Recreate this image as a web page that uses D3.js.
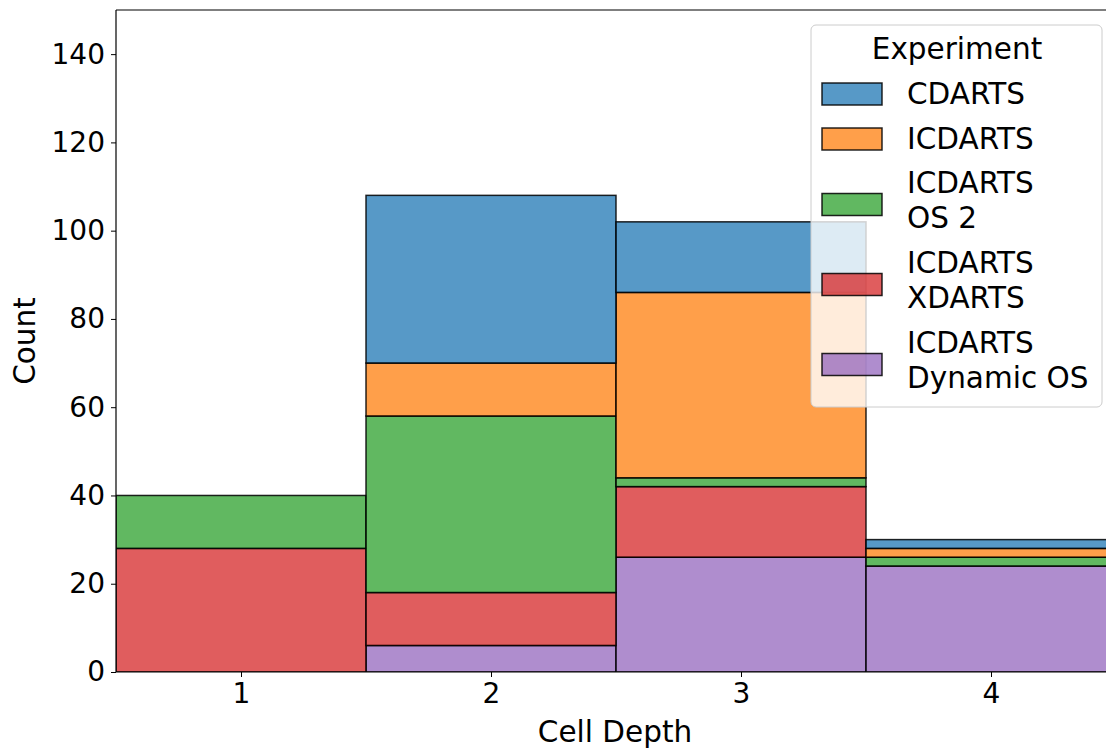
<!DOCTYPE html>
<html>
<head>
<meta charset="utf-8">
<script src="https://cdn.jsdelivr.net/npm/d3@7"></script>
<style>
  body { margin: 0; background: #fff; }
  svg { display: block; font-family: "DejaVu Sans", sans-serif; }
</style>
</head>
<body>
<svg id="chart" width="1106" height="750"></svg>
<script>
// Cell depth bins
const depths = [1, 2, 3, 4];
// counts per experiment, one value per depth bin
const cdarts = [0, 38, 16, 2];
const icdarts = [0, 12, 42, 2];
const icdartsOs2 = [12, 40, 2, 2];
const icdartsXdarts = [28, 12, 16, 0];
const icdartsDynamicOs = [0, 6, 26, 24];
const yTicks = [0, 20, 40, 60, 80, 100, 120, 140];

// legend order (top to bottom) = hue order
const experiments = [
  { key: "cdarts", label: "CDARTS", color: "#1f77b4", values: cdarts },
  { key: "icdarts", label: "ICDARTS", color: "#ff7f0e", values: icdarts },
  { key: "os2", label: "ICDARTS\nOS 2", color: "#2ca02c", values: icdartsOs2 },
  { key: "xdarts", label: "ICDARTS\nXDARTS", color: "#d62728", values: icdartsXdarts },
  { key: "dyn", label: "ICDARTS\nDynamic OS", color: "#9467bd", values: icdartsDynamicOs }
];

const margin = { top: 10, left: 116, bottom: 78 };
const W = 1106, H = 750;
const plotW = 1000;                 // axes run past the window edge
const plotH = H - margin.top - margin.bottom;

const svg = d3.select("#chart");
const g = svg.append("g").attr("transform", `translate(${margin.left},${margin.top})`);

const x = d3.scaleLinear().domain([0.5, 4.5]).range([0, plotW]);
const y = d3.scaleLinear().domain([0, 150]).range([plotH, 0]);

// stack: last hue on the bottom
const table = depths.map((d, i) => {
  const row = { depth: d };
  experiments.forEach(e => row[e.key] = e.values[i]);
  return row;
});
const stackKeys = experiments.map(e => e.key).reverse();
const series = d3.stack().keys(stackKeys)(table);
const colorOf = Object.fromEntries(experiments.map(e => [e.key, e.color]));

g.append("clipPath").attr("id", "clip")
  .append("rect").attr("width", plotW).attr("height", plotH);

const bars = g.append("g").attr("clip-path", "url(#clip)");
series.forEach(s => {
  bars.selectAll(null)
    .data(s)
    .enter()
    .append("rect")
    .attr("x", d => x(d.data.depth - 0.5))
    .attr("width", x(1.5) - x(0.5))
    .attr("y", d => y(d[1]))
    .attr("height", d => y(d[0]) - y(d[1]))
    .attr("fill", colorOf[s.key])
    .attr("fill-opacity", 0.75)
    .attr("stroke", "#000")
    .attr("stroke-opacity", 0.85)
    .attr("stroke-width", 1.5);
});

// axes
const xAxis = g.append("g")
  .attr("transform", `translate(0,${plotH})`)
  .call(d3.axisBottom(x).tickValues(depths).tickFormat(d3.format("d")).tickSize(5).tickPadding(6));
const yAxis = g.append("g")
  .call(d3.axisLeft(y).tickValues(yTicks).tickSize(5).tickPadding(6));

[xAxis, yAxis].forEach(a => {
  a.select(".domain").remove();
  a.selectAll("text").attr("font-size", 28).attr("font-family", "DejaVu Sans").attr("fill", "#000");
  a.selectAll("line").attr("stroke", "#000").attr("stroke-width", 1);
});

// spines
g.append("line").attr("x1", 0).attr("x2", 0).attr("y1", 0).attr("y2", plotH)
  .attr("stroke", "#000").attr("stroke-width", 1.2);
g.append("line").attr("x1", 0).attr("x2", plotW).attr("y1", plotH).attr("y2", plotH)
  .attr("stroke", "#000").attr("stroke-width", 1.2);
g.append("line").attr("x1", 0).attr("x2", plotW).attr("y1", 0).attr("y2", 0)
  .attr("stroke", "#000").attr("stroke-width", 1.2);
g.append("line").attr("x1", plotW).attr("x2", plotW).attr("y1", 0).attr("y2", plotH)
  .attr("stroke", "#000").attr("stroke-width", 1.2);

// axis labels
svg.append("text")
  .attr("x", 615).attr("y", 742)
  .attr("text-anchor", "middle")
  .attr("font-size", 29.5)
  .text("Cell Depth");
svg.append("text")
  .attr("transform", `translate(35,${margin.top + plotH / 2}) rotate(-90)`)
  .attr("text-anchor", "middle")
  .attr("font-size", 29.5)
  .text("Count");

// legend
const legend = svg.append("g");
legend.append("rect")
  .attr("x", 811).attr("y", 25).attr("width", 291).attr("height", 382)
  .attr("rx", 5)
  .attr("fill", "#fff").attr("fill-opacity", 0.8)
  .attr("stroke", "#ccc").attr("stroke-width", 1);
legend.append("text")
  .attr("x", 957).attr("y", 59)
  .attr("text-anchor", "middle")
  .attr("font-size", 29.5)
  .text("Experiment");

const lineH = 35;
let cy = 94;
experiments.forEach((e, i) => {
  const lines = e.label.split("\n");
  if (i > 0) {
    const prev = experiments[i - 1].label.split("\n").length;
    cy += (prev + lines.length) * lineH / 2 + 10 + (prev !== lines.length ? 3 : 0);
  }
  legend.append("rect")
    .attr("x", 822).attr("y", cy - 11).attr("width", 60).attr("height", 22)
    .attr("fill", e.color).attr("fill-opacity", 0.75)
    .attr("stroke", "#000").attr("stroke-opacity", 0.85).attr("stroke-width", 1.5);
  const first = lines.length === 1 ? cy + 10 : cy - 12;
  const t = legend.append("text").attr("font-size", 29.5);
  lines.forEach((l, j) => {
    t.append("tspan").attr("x", 907).attr("y", first + j * lineH).text(l);
  });
});
</script>
</body>
</html>
